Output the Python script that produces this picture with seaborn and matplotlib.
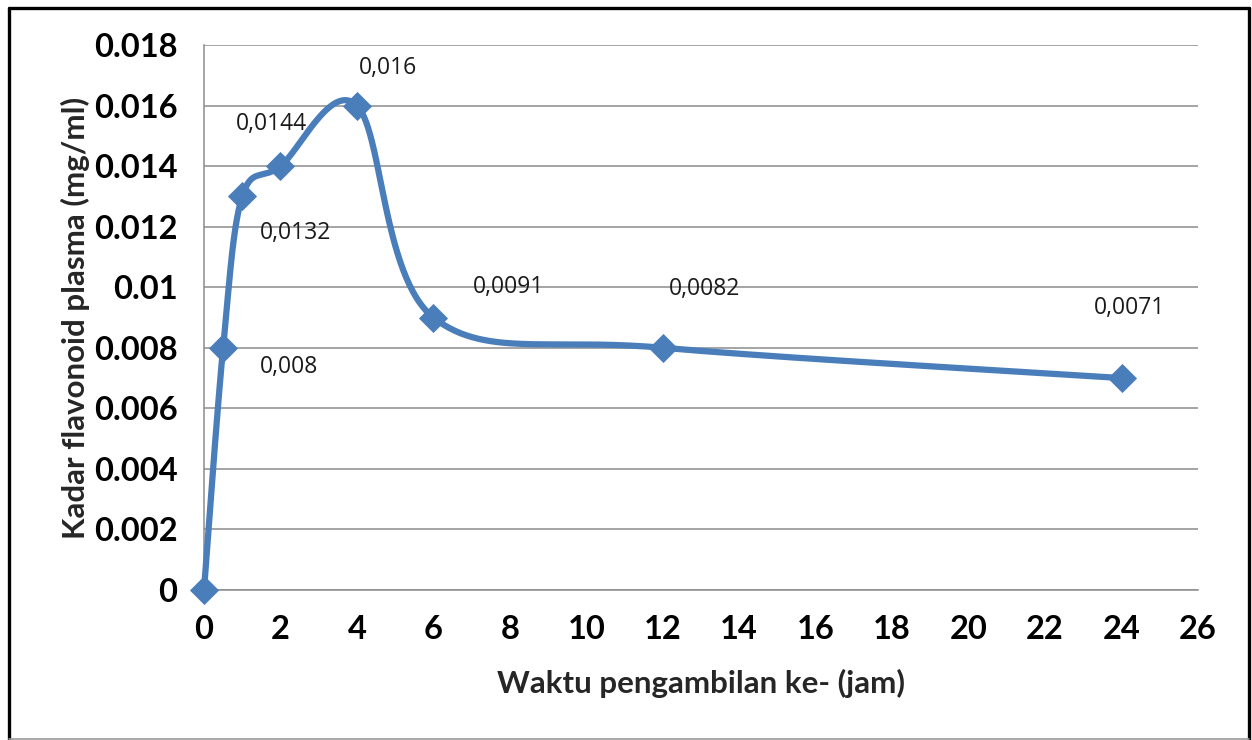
import numpy as np
import matplotlib
matplotlib.use("Agg")
import matplotlib.pyplot as plt
import seaborn as sns
import pandas as pd
from matplotlib.lines import Line2D

# ---- data ----
time_h = [0, 0.5, 1, 2, 4, 6, 12, 24]
conc = [0, 0.008, 0.013, 0.014, 0.016, 0.009, 0.008, 0.007]
point_labels = ["", "0,008", "0,0132", "0,0144", "0,016", "0,0091", "0,0082", "0,0071"]
y_ticks = [0, 0.002, 0.004, 0.006, 0.008, 0.01, 0.012, 0.014, 0.016, 0.018]
y_tick_labels = ["0", "0.002", "0.004", "0.006", "0.008", "0.01", "0.012", "0.014", "0.016", "0.018"]
x_ticks = list(range(0, 27, 2))

# label offsets in pixels (dx, dy upwards) relative to each point
label_offsets_px = [(0, 0), (66, -19), (53, -37), (-9, 42), (31, 38), (75, 30), (42, 59), (8, 70)]

sns.set_theme(style="white")
plt.rcParams['font.family'] = ['Lato', 'DejaVu Sans']

DPI = 100
fig = plt.figure(figsize=(12.52, 7.40), dpi=DPI)
ax = fig.add_axes([204/1252, 1-590/740, (1198-204)/1252, (590-45)/740])
ax.set_xlim(0, 26)
ax.set_ylim(0, 0.018)

df = pd.DataFrame({"t": time_h, "c": conc})
blue = "#4A7EBB"

# Excel-like smoothing (Bezier with 1/6 tangents in display space)
fig.canvas.draw()
disp = ax.transData.transform(np.column_stack([time_h, conc]))
P = np.vstack([disp[0], disp, disp[-1]])
curve = []
tt = np.linspace(0, 1, 60)
for i in range(1, len(P) - 2):
    p0, p1, p2, p3 = P[i-1], P[i], P[i+1], P[i+2]
    c1 = p1 + (p2 - p0) / 6.0
    c2 = p2 - (p3 - p1) / 6.0
    seg = ((1-tt)**3)[:, None]*p1 + (3*(1-tt)**2*tt)[:, None]*c1 + (3*(1-tt)*tt**2)[:, None]*c2 + (tt**3)[:, None]*p2
    curve.append(seg)
curve = np.vstack(curve)
curve_data = ax.transData.inverted().transform(curve)
smooth = pd.DataFrame({"t": curve_data[:, 0], "c": curve_data[:, 1]})

sns.lineplot(data=smooth, x="t", y="c", ax=ax, color=blue, lw=4.5, sort=False,
             estimator=None, clip_on=False, zorder=3)
sns.scatterplot(data=df, x="t", y="c", ax=ax, color=blue, marker="D", s=220,
                edgecolor=blue, linewidth=0, clip_on=False, zorder=4)

for x, y, lab, (dx, dy) in zip(time_h, conc, point_labels, label_offsets_px):
    if lab:
        ax.annotate(lab, (x, y), xytext=(dx*72/DPI, dy*72/DPI), textcoords="offset points",
                    ha="center", va="center", fontsize=16.5, color="#1a1a1a",
                    family=['Open Sans', 'DejaVu Sans'])

ax.set_xticks(x_ticks)
ax.set_xticklabels([str(v) for v in x_ticks])
ax.set_yticks(y_ticks)
ax.set_yticklabels(y_tick_labels)
ax.grid(axis="y", color="#8c8c8c", lw=1.1)
ax.grid(axis="x", visible=False)
ax.set_axisbelow(True)
for s in ["top", "right"]:
    ax.spines[s].set_visible(False)
for s in ["left", "bottom"]:
    ax.spines[s].set_color("#8c8c8c")
    ax.spines[s].set_linewidth(1.1)

ax.tick_params(axis="x", direction="out", length=8, width=1.1, color="#8c8c8c",
               pad=10, labelsize=23.5, labelcolor="black")
ax.tick_params(axis="y", direction="out", length=5, width=1.1, color="#8c8c8c",
               pad=14, labelsize=23.5, labelcolor="black")
for lbl in ax.get_xticklabels() + ax.get_yticklabels():
    lbl.set_fontweight("bold")

ax.set_xlabel("")
ax.set_ylabel("")
fig.text(701/1252, 1-683/740, "Waktu pengambilan ke- (jam)", ha="center", va="center",
         fontsize=22.5, fontweight="bold")
fig.text(75/1252, 1-318/740, "Kadar flavonoid plasma (mg/ml)", ha="center", va="center",
         rotation=90, fontsize=22.5, fontweight="bold")

# outer border
bx0, bx1 = 8.5/1252, 1248.5/1252
by0, by1 = 1-738.5/740, 1-7.5/740
fig.add_artist(Line2D([bx0, bx0], [by0, by1], transform=fig.transFigure, color="black", lw=2.4))
fig.add_artist(Line2D([bx1, bx1], [by0, by1], transform=fig.transFigure, color="black", lw=2.4))
fig.add_artist(Line2D([bx0, bx1], [by1, by1], transform=fig.transFigure, color="black", lw=2.4))
fig.add_artist(Line2D([bx0, bx1], [by0, by0], transform=fig.transFigure, color="#9a9a9a", lw=1.2))

fig.savefig("out.png", dpi=DPI, facecolor="white")
